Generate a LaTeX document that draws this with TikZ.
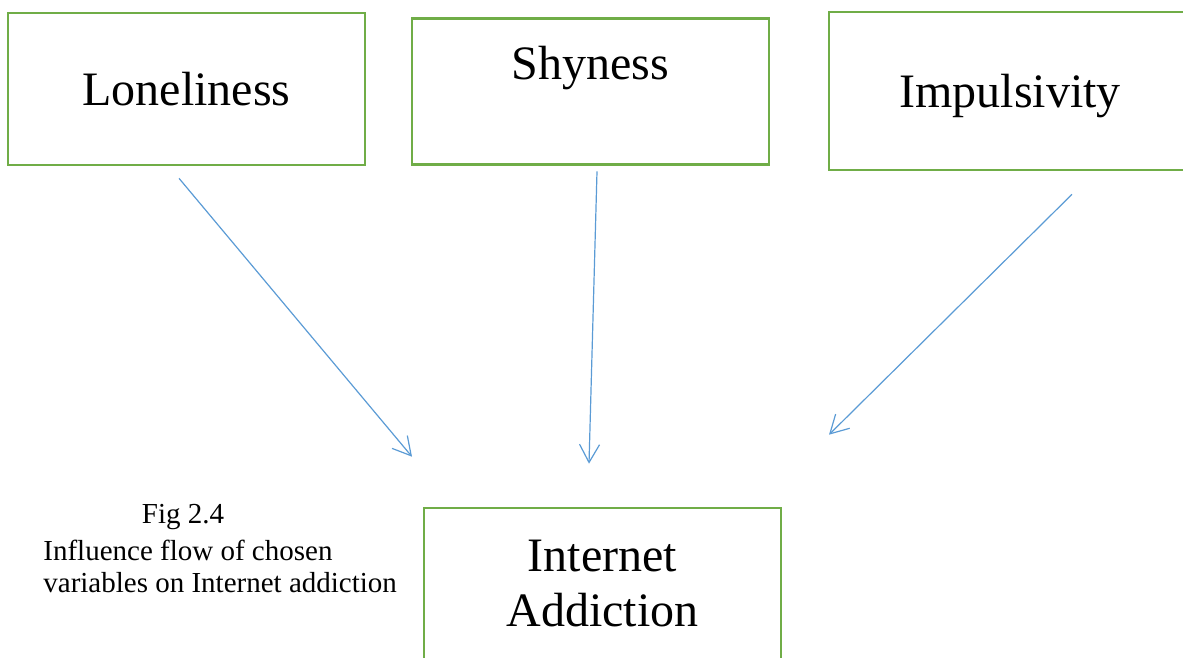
\documentclass[tikz,border=0pt]{standalone}
\usepackage{fontspec}
\setmainfont{Liberation Serif}
\usetikzlibrary{positioning, arrows.meta}
\definecolor{boxgreen}{HTML}{70AD47}
\definecolor{arrblue}{HTML}{5B9BD5}

\begin{document}
\begin{tikzpicture}[
                x=0.5pt, y=-0.5pt,
                varbox/.style={draw=boxgreen, line width=1.3pt, minimum width=178.5pt, minimum height=76pt,
                    inner sep=0pt, align=center, font=\fontsize{24}{27.5}\selectfont},
                arr/.style={-{Straight Barb[length=9pt, width=10pt]}, draw=arrblue, line width=0.6pt},
                captext/.style={inner sep=0pt, font=\fontsize{14.5}{16}\selectfont},
            ]
            \useasboundingbox (0,0) rectangle (1183,658);
            \clip (0,0) rectangle (1183,658);

            % === variable boxes ===
            \node[varbox] (lone) at (186.5,89) {Loneliness};
            \node[varbox, minimum height=73pt, text height=17pt, text depth=28.5pt] (shy) at (590.5,91.5) {Shyness};
            \node[varbox, minimum width=181pt, minimum height=79pt, text depth=0pt] (imp) at (1010,91) {Impulsivity};
            \node[varbox] (ia) at (602.5,584) {Internet\\Addiction};

            % === caption ===
            \node[captext] (fig) at (183,517) {Fig 2.4};
            \node[captext, anchor=north west, align=left] (capt) at (43,540) {Influence flow of chosen\\variables on Internet addiction};

            % === influence arrows ===
            \coordinate (lone-from) at ([shift={(-7.5,12)}]lone.south);
            \coordinate (shy-from) at ([shift={(6.5,5.5)}]shy.south);
            \coordinate (imp-from) at ([shift={(62,23)}]imp.south);
            \coordinate (lone-to) at ([shift={(-190.5,-50)}]ia.north);
            \coordinate (shy-to) at ([shift={(-13.5,-43)}]ia.north);
            \coordinate (imp-to) at ([shift={(226.5,-72)}]ia.north);
            \foreach \v in {lone, shy, imp} {
                \draw[arr] (\v-from) -- (\v-to);
            }
            \end{tikzpicture}
\end{document}
